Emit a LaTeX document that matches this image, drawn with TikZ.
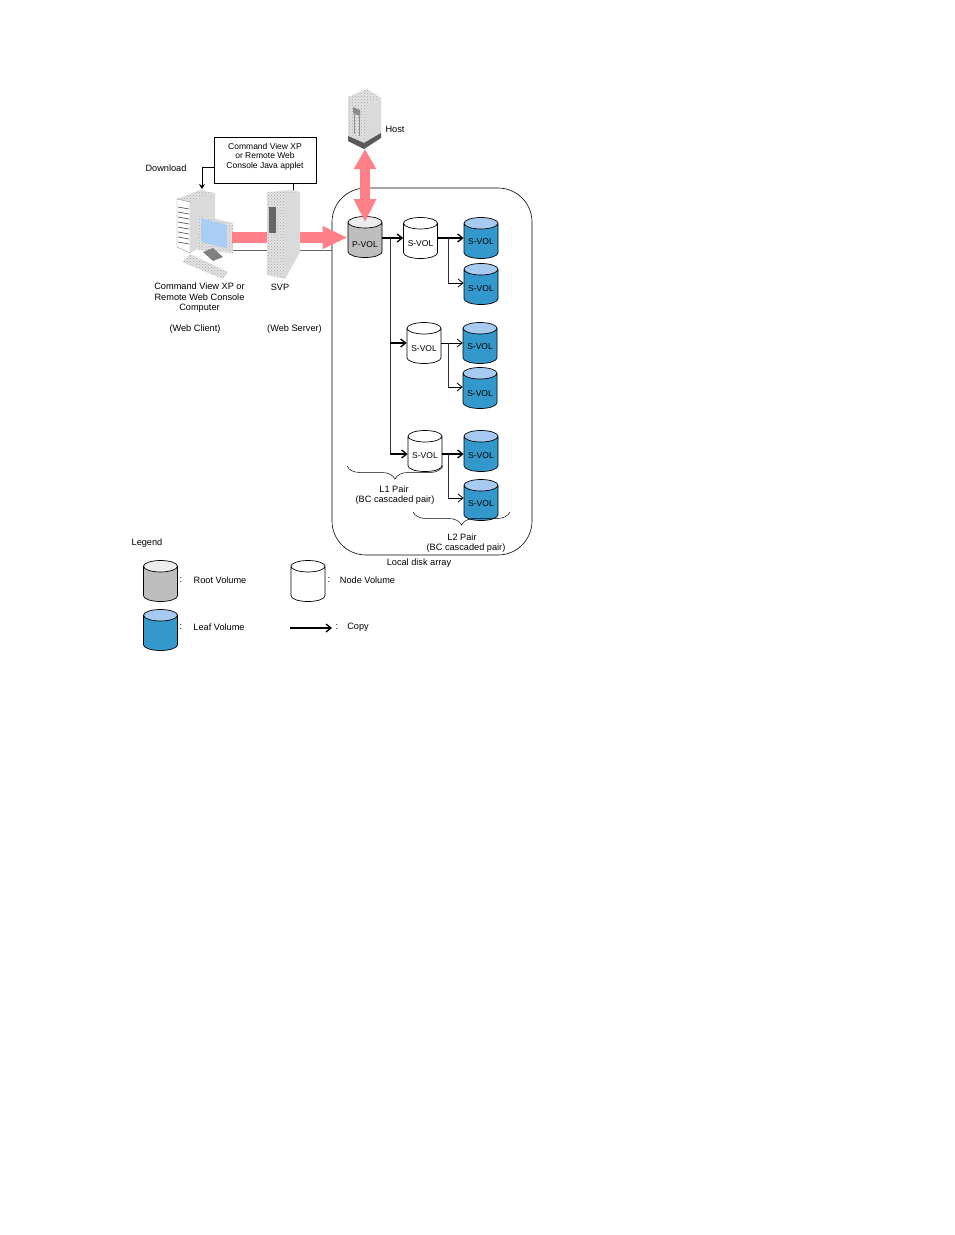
\documentclass[tikz,border=0pt]{standalone}
\usepackage{fontspec}
\setmainfont{Liberation Sans}
\usetikzlibrary{shapes.geometric,arrows.meta,decorations.pathreplacing,patterns}
\definecolor{leaf_body}{HTML}{3399CC}
\definecolor{leaf_top}{HTML}{A6CAF0}
\definecolor{root_body}{HTML}{BEBEBE}
\definecolor{root_top}{HTML}{EDEDED}
\definecolor{dots}{HTML}{DADADA}
\definecolor{flow}{HTML}{FF8088}
\definecolor{screen}{HTML}{A9CDF5}
\tikzstyle{volume}=[cylinder,
                    anchor=shape center,
                    shape border rotate=90,
                    aspect=0.45,
                    minimum height=41,
                    minimum width=34,
                    inner sep=0pt,
                    draw=black,
                    line width=0.7pt,
                    font=\fontsize{8.5}{9}\selectfont]
\tikzstyle{root_vol}=[volume, cylinder uses custom fill, cylinder body fill=root_body, cylinder end fill=root_top]
\tikzstyle{node_vol}=[volume, cylinder uses custom fill, cylinder body fill=white, cylinder end fill=white]
\tikzstyle{leaf_vol}=[volume, cylinder uses custom fill, cylinder body fill=leaf_body, cylinder end fill=leaf_top]
\tikzstyle{caption}=[align=center, inner sep=0pt, font=\fontsize{9.2}{10.5}\selectfont]
\tikzstyle{copy_line}=[line width=0.7pt, black!80]
\tikzstyle{copy_arrow}=[line width=1.3pt, -{Straight Barb[length=5pt, width=8pt]}]
\tikzstyle{thin_arrow}=[copy_arrow, line width=0.8pt]
\tikzstyle{flow_arrow}=[line width=10pt, flow, {Triangle[length=20pt, width=21pt]}-{Triangle[length=23pt, width=21pt]}]
\tikzstyle{flow_arrow_right}=[line width=11pt, flow, -{Triangle[length=25pt, width=21pt]}]
\tikzstyle{hw_face}=[fill=dots!75!white, postaction={pattern=crosshatch dots, pattern color=black!35}]
\tikzstyle{pair_brace}=[decorate, decoration={brace, amplitude=13pt}, line width=0.5pt]
\newcommand{\vollabel}[2]{\raisebox{-#1pt}[1ex][0pt]{#2}}

\begin{document}
\begin{tikzpicture}[x=1pt, y=-1pt]
    \useasboundingbox (0, 0) rectangle (954, 1235);

    % local disk array and the cable running into it
    \node at (432, 371.5) (Array) [rectangle, draw=black, line width=0.6pt, rounded corners=34, minimum width=200, minimum height=367] {};
    \draw[black!60, line width=0.7pt] (232, 250) -- (332, 250);
    \node at (265, 160) (Applet) [rectangle, draw=black, line width=0.7pt, minimum width=102, minimum height=46] {};
    \node at (265, 156.5) (AppletText) [caption, font=\fontsize{8.5}{9.4}\selectfont] {Command View XP\\or Remote Web\\Console Java applet};
    \draw[black, line width=0.7pt] (293, 183) -- (293, 192);

    % volumes
    \node at (365, 237) (PVol) [root_vol] {\vollabel{5.5}{P-VOL}};
    \node at (420.5, 238) (S1) [node_vol] {\vollabel{3.5}{S-VOL}};
    \node at (424, 343) (S2) [node_vol] {\vollabel{3.5}{S-VOL}};
    \node at (425, 451) (S3) [node_vol] {\vollabel{2.5}{S-VOL}};
    \node at (481, 238) (L11) [leaf_vol] {\vollabel{1.5}{S-VOL}};
    \node at (481, 284) (L12) [leaf_vol] {\vollabel{2.5}{S-VOL}};
    \node at (480, 343) (L21) [leaf_vol] {\vollabel{1.5}{S-VOL}};
    \node at (480, 388) (L22) [leaf_vol] {\vollabel{3.5}{S-VOL}};
    \node at (481, 451) (L31) [leaf_vol] {\vollabel{2.5}{S-VOL}};
    \node at (481, 500) (L32) [leaf_vol] {\vollabel{1.5}{S-VOL}};

    % host tower
    \coordinate (HostBase) at (365, 149);
    \fill[hw_face] (348, 97) -- (367, 89) -- (381, 98) -- (365, 105) -- cycle;
    \fill[hw_face] (348, 97) -- (365, 105) -- (365, 145) -- (348, 136) -- cycle;
    \fill[dots] (365, 105) -- (381, 98) -- (381, 134) -- (365, 143) -- cycle;
    \fill[black!65] (348, 136) -- (364, 143) -- (381, 133) -- (381, 138) -- (364, 149) -- (348, 141) -- cycle;
    \fill[black!45] (353, 107) -- (360, 110) -- (360, 116) -- (353, 113) -- cycle;
    \draw[black!45, line width=0.5pt] (354, 114) -- (354, 134) (359, 116) -- (359, 136);

    % client tower and monitor
    \coordinate (Client) at (232, 237.5);
    \coordinate (ClientTop) at (202, 189);
    \fill[hw_face] (177, 199) -- (200, 190) -- (215, 193) -- (190, 202) -- cycle;
    \fill[white, draw=black!50, line width=0.3pt] (177, 199) -- (190, 202) -- (190, 253) -- (177, 247) -- cycle;
    \fill[dots] (190, 202) -- (215, 193) -- (215, 240) -- (190, 253) -- cycle;
    \foreach \ly in {207, 212, ..., 242} {
        \draw[black!65, line width=0.7pt] (178, \ly) -- (189, \ly + 2);
    }
    \fill[hw_face] (198, 215) -- (233, 223) -- (233, 253) -- (198, 250) -- cycle;
    \fill[screen] (201, 218) -- (227, 225) -- (227, 248) -- (201, 242) -- cycle;

    % data paths
    \draw[flow_arrow] (HostBase) -- ([yshift=-6]PVol.north);
    \draw[flow_arrow_right] (Client) -- (PVol.west |- Client);

    % stand and keyboard
    \fill[black!50] (203, 252) -- (213, 248) -- (223, 257) -- (213, 261) -- cycle;
    \fill[hw_face] (182, 262) -- (190, 254) -- (228, 272) -- (223, 279) -- cycle;

    % SVP
    \fill[hw_face] (267, 192) -- (293, 190) -- (300, 192) -- (285, 197) -- cycle;
    \fill[hw_face] (267, 192) -- (285, 197) -- (285, 279) -- (267, 275) -- cycle;
    \fill[dots] (285, 197) -- (300, 192) -- (300, 252) -- (285, 279) -- cycle;
    \fill[black!60] (269, 207) rectangle (276, 233);

    % copy arrows, one row of the cascade at a time
    \coordinate (Row1) at (390, 238);
    \coordinate (Row2) at (448, 283);
    \coordinate (Row3) at (390, 343);
    \coordinate (Row4) at (448, 387);
    \coordinate (Row5) at (390, 454);
    \coordinate (Row6) at (448, 498);

    \draw[copy_line] (Row1) -- (Row5);
    \draw[copy_arrow] (PVol.east |- Row1) -- (S1.west |- Row1);
    \draw[copy_arrow] (Row3) -- (S2.west |- Row3);
    \draw[copy_arrow] (Row5) -- (S3.west |- Row5);

    \draw[copy_arrow] (S1.east |- Row1) -- (L11.west |- Row1);
    \draw[copy_line] (Row2 |- Row1) -- (Row2);
    \draw[thin_arrow] (Row2) -- (L12.west |- Row2);

    \draw[thin_arrow] (S2.east |- Row3) -- (L21.west |- Row3);
    \draw[copy_line] (Row4 |- Row3) -- (Row4);
    \draw[thin_arrow] (Row4) -- (L22.west |- Row4);

    \draw[copy_arrow] (S3.east |- Row5) -- (L31.west |- Row5);
    \draw[copy_line] (Row6 |- Row5) -- (Row6);
    \draw[thin_arrow] (Row6) -- (L32.west |- Row6);

    \draw[black, line width=0.7pt, -{Stealth[length=5pt, width=6pt]}] (Applet.west |- 0, 167) -| (ClientTop);

    % pair braces
    \draw[pair_brace] (443, 466) -- (347, 466);
    \draw[pair_brace] (510, 512) -- (413, 512);

    % captions
    \node at (166, 168) (Download) [caption] {Download};
    \node at (395, 129) (HostLabel) [caption] {Host};
    \node at (199.5, 298) (ClientLabel) [caption] {Command View XP or\\Remote Web Console\\Computer};
    \node at (280, 287) (SvpLabel) [caption] {SVP};
    \node at (195, 329) (WebClient) [caption] {(Web Client)};
    \node at (294.5, 329) (WebServer) [caption] {(Web Server)};
    \node at (394, 489) (L1Pair) [caption] {L1 Pair};
    \node at (395, 500) (L1Kind) [caption] {(BC cascaded pair)};
    \node at (462, 537) (L2Pair) [caption] {L2 Pair};
    \node at (466, 548) (L2Kind) [caption] {(BC cascaded pair)};
    \node at (419, 563) (ArrayLabel) [caption] {Local disk array};

    % legend
    \node at (147, 543) (Legend) [caption] {Legend};
    \node at (160.5, 581) (RootKey) [root_vol] {\phantom{S-VOL}};
    \node at (308, 581) (NodeKey) [node_vol] {\phantom{S-VOL}};
    \node at (160.5, 630) (LeafKey) [leaf_vol] {\phantom{S-VOL}};
    \node at (181, 580) (C1) [caption] {:};
    \node at (329, 580) (C2) [caption] {:};
    \node at (181, 627) (C3) [caption] {:};
    \node at (337, 627) (C4) [caption] {:};
    \node at (220, 580) (RootText) [caption] {Root Volume};
    \node at (367.5, 580) (NodeText) [caption] {Node Volume};
    \node at (219, 627) (LeafText) [caption] {Leaf Volume};
    \node at (358, 627) (CopyText) [caption] {Copy};
    \coordinate (CopyStart) at (290, 628);
    \coordinate (CopyEnd) at (332, 628);
    \draw[copy_arrow] (CopyStart) -- (CopyEnd);
\end{tikzpicture}
\end{document}
